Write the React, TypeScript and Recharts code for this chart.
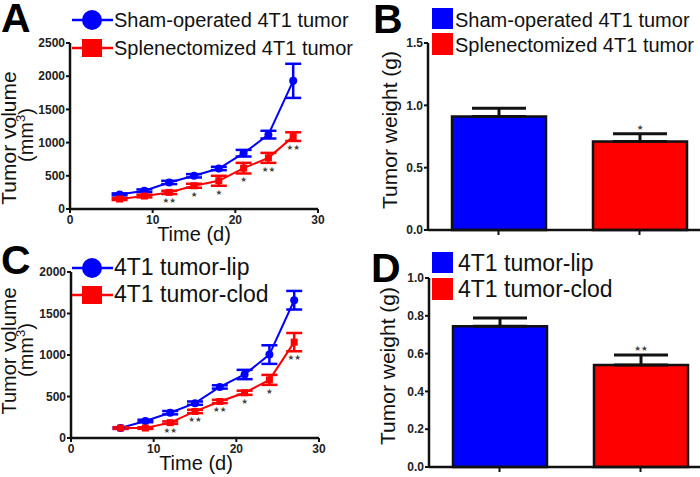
import React from 'react'
import {
  LineChart,
  Line,
  BarChart,
  Bar,
  Cell,
  XAxis,
  YAxis,
  ErrorBar,
  LabelList,
  Legend,
} from 'recharts'

// ---------------------------------------------------------------------------
// Data
// ---------------------------------------------------------------------------

const days = [6, 9, 12, 15, 18, 21, 24, 27]

// Panel A
const shamVolume = [220, 275, 400, 500, 610, 840, 1120, 1930]
const shamVolumeErr = [15, 20, 25, 25, 25, 50, 58, 257]
const splenVolume = [150, 195, 250, 350, 425, 615, 770, 1090]
const splenVolumeErr = [15, 20, 25, 30, 75, 80, 75, 65]
const splenSig = ['', '', '**', '*', '*', '*', '**', '**']

// Panel C
const lipVolume = [120, 205, 305, 420, 615, 765, 1005, 1660]
const lipVolumeErr = [10, 15, 20, 20, 20, 56, 112, 112]
const clodVolume = [120, 120, 185, 320, 440, 545, 700, 1155]
const clodVolumeErr = [10, 10, 15, 20, 20, 25, 60, 110]
const clodSig = ['', '', '**', '**', '**', '*', '*', '**']

// Panel B
const groupsB = ['Sham-operated 4T1 tumor', 'Splenectomized 4T1 tumor']
const weightB = [0.91, 0.71]
const weightBErr = [0.066, 0.062]
const sigB = ['', '*']

// Panel D
const groupsD = ['4T1 tumor-lip', '4T1 tumor-clod']
const weightD = [0.745, 0.54]
const weightDErr = [0.044, 0.053]
const sigD = ['', '**']

const volumeTicksA = [0, 500, 1000, 1500, 2000, 2500]
const volumeTicksC = [0, 500, 1000, 1500, 2000]
const dayTicks = [0, 10, 20, 30]
const weightTicksB = [0, 0.5, 1.0, 1.5]
const weightTicksD = [0, 0.2, 0.4, 0.6, 0.8, 1.0]

// ---------------------------------------------------------------------------

const BLUE = '#0000ff'
const RED = '#ff0000'
const FONT = 'Arial, "Liberation Sans", Helvetica, sans-serif'

const tickStyle = { fontSize: 12, fontWeight: 'bold' as const, fill: '#222', fontFamily: FONT }
const axisLine = { stroke: '#111', strokeWidth: 2.5 }
const tickLine = { stroke: '#111', strokeWidth: 2 }

// significance marks are drawn as small stars
const toStars = (s: string) => s.replace(/\*/g, '\u2605')

function BlueDot(props: any) {
  const { cx, cy, index } = props
  if (cx == null || cy == null) return null
  return <circle key={`b${index}`} cx={cx} cy={cy} r={4} fill={BLUE} />
}

function RedSquare(props: any) {
  const { cx, cy, index } = props
  if (cx == null || cy == null) return null
  return <rect key={`r${index}`} x={cx - 3.5} y={cy - 3.5} width={7} height={7} fill={RED} />
}

// stars under a line point (below its error bar)
const starsBelow = (errs: number[], pxPerUnit: number) => (props: any) => {
  const { x, y, value, index } = props
  if (!value) return null
  const errPx = (errs[index] ?? 0) * pxPerUnit
  return (
    <text x={x} y={y + errPx + 9} textAnchor="middle" fontSize={7.5} fill="#444" fontFamily="DejaVu Sans, sans-serif">
      {toStars(value)}
    </text>
  )
}

// stars above a bar (above its error cap)
const starsAbove = (errs: number[], pxPerUnit: number) => (props: any) => {
  const { x, y, width, value, index } = props
  if (!value) return null
  const errPx = (errs[index] ?? 0) * pxPerUnit
  return (
    <text x={x + width / 2} y={y - errPx - 4} textAnchor="middle" fontSize={7.5} fill="#444" fontFamily="DejaVu Sans, sans-serif">
      {toStars(value)}
    </text>
  )
}

// ---------------------------------------------------------------------------
// Legends
// ---------------------------------------------------------------------------

function LineLegend({ labels, top, fontSize, gap }: { labels: string[]; top: number; fontSize: number; gap: number }) {
  const y1 = top
  const y2 = top + gap
  return (
    <svg width={370} height={top + gap + 20} style={{ overflow: 'visible', display: 'block' }}>
      <line x1={72} x2={113} y1={y1} y2={y1} stroke={BLUE} strokeWidth={2.5} />
      <circle cx={92} cy={y1} r={10} fill={BLUE} />
      <text x={114} y={y1 + 7} fontSize={fontSize} fontFamily={FONT} fill="#111">{labels[0]}</text>
      <line x1={72} x2={113} y1={y2} y2={y2} stroke={RED} strokeWidth={2.5} />
      <rect x={82} y={y2 - 9} width={20} height={18} fill={RED} />
      <text x={114} y={y2 + 7} fontSize={fontSize} fontFamily={FONT} fill="#111">{labels[1]}</text>
    </svg>
  )
}

function BarLegend({ labels, top, fontSize, gap, textX }: { labels: string[]; top: number; fontSize: number; gap: number; textX: number }) {
  return (
    <svg width={370} height={top + gap + 30} style={{ overflow: 'visible', display: 'block' }}>
      <rect x={82} y={top} width={21} height={21} fill={BLUE} />
      <text x={textX} y={top + 19} fontSize={fontSize} fontFamily={FONT} fill="#111">{labels[0]}</text>
      <rect x={82} y={top + gap} width={21} height={22} fill={RED} />
      <text x={textX} y={top + gap + 19} fontSize={fontSize} fontFamily={FONT} fill="#111">{labels[1]}</text>
    </svg>
  )
}

const legendProps = {
  layout: 'vertical' as const,
  align: 'center' as const,
  verticalAlign: 'middle' as const,
  wrapperStyle: { left: 0, top: 0, width: 370, height: 80 },
}

// ---------------------------------------------------------------------------

function VolumeChart({
  data, ticks, max, redErr, pxPerUnit, names, legendTop, legendSize, legendGap, height, margin, yWidth, xHeight,
}: any) {
  return (
    <LineChart width={350} height={height} data={data} margin={margin}>
      <XAxis
        dataKey="day"
        type="number"
        domain={[0, 30]}
        ticks={dayTicks}
        tick={tickStyle}
        axisLine={axisLine}
        tickLine={tickLine}
        tickSize={4}
        tickMargin={2}
        height={xHeight}
      />
      <YAxis
        type="number"
        domain={[0, max]}
        ticks={ticks}
        tick={tickStyle}
        axisLine={axisLine}
        tickLine={tickLine}
        tickSize={4}
        tickMargin={1}
        width={yWidth}
        interval={0}
      />
      <Legend {...legendProps} content={() => <LineLegend labels={names} top={legendTop} fontSize={legendSize} gap={legendGap} />} />
      <Line dataKey="blue" name={names[0]} stroke={BLUE} strokeWidth={2} dot={BlueDot} activeDot={false} isAnimationActive={false}>
        <ErrorBar dataKey="blueErr" direction="y" width={8} stroke={BLUE} strokeWidth={2.5} />
      </Line>
      <Line dataKey="red" name={names[1]} stroke={RED} strokeWidth={2} dot={RedSquare} activeDot={false} isAnimationActive={false}>
        <ErrorBar dataKey="redErr" direction="y" width={8} stroke={RED} strokeWidth={2.5} />
        <LabelList dataKey="sig" content={starsBelow(redErr, pxPerUnit)} />
      </Line>
    </LineChart>
  )
}

function WeightChart({
  data, ticks, max, errs, pxPerUnit, names, legendTop, legendSize, legendGap, legendTextX, height, margin, yWidth,
}: any) {
  return (
    <BarChart width={370} height={height} data={data} margin={margin} barSize={94}>
      <XAxis
        dataKey="name"
        tickFormatter={() => ''}
        axisLine={axisLine}
        tickLine={tickLine}
        tickSize={5}
        height={10}
      />
      <YAxis
        type="number"
        domain={[0, max]}
        ticks={ticks}
        tick={tickStyle}
        tickFormatter={(v: number) => v.toFixed(1)}
        axisLine={axisLine}
        tickLine={tickLine}
        tickSize={4}
        tickMargin={1}
        width={yWidth}
        interval={0}
      />
      <Legend
        {...legendProps}
        content={() => <BarLegend labels={names} top={legendTop} fontSize={legendSize} gap={legendGap} textX={legendTextX} />}
      />
      <Bar dataKey="value" stroke="#111" strokeWidth={2.5} isAnimationActive={false}>
        {data.map((_: any, i: number) => (
          <Cell key={i} fill={i === 0 ? BLUE : RED} />
        ))}
        <ErrorBar dataKey="err" direction="y" width={27} stroke="#111" strokeWidth={3} />
        <LabelList dataKey="sig" content={starsAbove(errs, pxPerUnit)} />
      </Bar>
    </BarChart>
  )
}

export default function App() {
  const dataA = days.map((d, i) => ({
    day: d,
    blue: shamVolume[i],
    blueErr: shamVolumeErr[i],
    red: splenVolume[i],
    redErr: splenVolumeErr[i],
    sig: splenSig[i],
  }))
  const dataC = days.map((d, i) => ({
    day: d,
    blue: lipVolume[i],
    blueErr: lipVolumeErr[i],
    red: clodVolume[i],
    redErr: clodVolumeErr[i],
    sig: clodSig[i],
  }))
  const dataB = groupsB.map((g, i) => ({ name: g, value: weightB[i], err: [0, weightBErr[i]], sig: sigB[i] }))
  const dataD = groupsD.map((g, i) => ({ name: g, value: weightD[i], err: [0, weightDErr[i]], sig: sigD[i] }))

  const title = { fontFamily: FONT, fill: '#111' }
  const letter = { fontFamily: FONT, fill: '#000', fontWeight: 'bold' as const, fontSize: 41 }

  return (
    <div style={{ position: 'absolute', left: 0, top: 0, width: 700, height: 477, overflow: 'hidden', background: '#fff', fontFamily: FONT }}>
      <div style={{ position: 'absolute', left: 0, top: 0 }}>
        <VolumeChart
          data={dataA}
          ticks={volumeTicksA}
          max={2500}
          redErr={splenVolumeErr}
          pxPerUnit={166 / 2500}
          names={['Sham-operated 4T1 tumor', 'Splenectomized 4T1 tumor']}
          legendTop={20}
          legendSize={20}
          legendGap={28}
          height={240}
          margin={{ top: 43, right: 32, bottom: 0, left: 0 }}
          yWidth={70}
          xHeight={31}
        />
      </div>
      <div style={{ position: 'absolute', left: 0, top: 240 }}>
        <VolumeChart
          data={dataC}
          ticks={volumeTicksC}
          max={2000}
          redErr={clodVolumeErr}
          pxPerUnit={166 / 2000}
          names={['4T1 tumor-lip', '4T1 tumor-clod']}
          legendTop={28}
          legendSize={23}
          legendGap={27}
          height={237}
          margin={{ top: 32, right: 31, bottom: 0, left: 0 }}
          yWidth={71}
          xHeight={39}
        />
      </div>
      <div style={{ position: 'absolute', left: 350, top: 0 }}>
        <WeightChart
          data={dataB}
          ticks={weightTicksB}
          max={1.5}
          errs={weightBErr}
          pxPerUnit={187 / 1.5}
          names={groupsB}
          legendTop={8}
          legendSize={20}
          legendGap={25}
          legendTextX={105}
          height={240}
          margin={{ top: 43, right: 10, bottom: 0, left: 0 }}
          yWidth={78}
        />
      </div>
      <div style={{ position: 'absolute', left: 350, top: 240 }}>
        <WeightChart
          data={dataD}
          ticks={weightTicksD}
          max={1.0}
          errs={weightDErr}
          pxPerUnit={189}
          names={groupsD}
          legendTop={12}
          legendSize={23}
          legendGap={26}
          legendTextX={108}
          height={237}
          margin={{ top: 38, right: 9, bottom: 0, left: 0 }}
          yWidth={79}
        />
      </div>

      {/* panel letters and axis titles */}
      <svg width={700} height={477} style={{ position: 'absolute', left: 0, top: 0, pointerEvents: 'none' }}>
        <text x={1} y={32} {...letter}>A</text>
        <text x={373} y={33} {...letter}>B</text>
        <text x={1} y={274} {...letter}>C</text>
        <text x={371} y={282} {...letter}>D</text>

        <text x={16} y={138} transform="rotate(-90 16 138)" textAnchor="middle" fontSize={21} {...title}>Tumor volume</text>
        <text x={33} y={135} transform="rotate(-90 33 135)" textAnchor="middle" fontSize={20} {...title}>
          (mm<tspan dy={-8} fontSize={13}>3</tspan><tspan dy={8}>)</tspan>
        </text>
        <text x={194} y={241} textAnchor="middle" fontSize={20} {...title}>Time (d)</text>

        <text x={16} y={351} transform="rotate(-90 16 351)" textAnchor="middle" fontSize={20} {...title}>Tumor volume</text>
        <text x={33} y={350} transform="rotate(-90 33 350)" textAnchor="middle" fontSize={20} {...title}>
          (mm<tspan dy={-8} fontSize={13}>3</tspan><tspan dy={8}>)</tspan>
        </text>
        <text x={196} y={470} textAnchor="middle" fontSize={20} {...title}>Time (d)</text>

        <text x={397} y={130} transform="rotate(-90 397 130)" textAnchor="middle" fontSize={21} {...title}>Tumor weight (g)</text>
        <text x={395} y={366} transform="rotate(-90 395 366)" textAnchor="middle" fontSize={21} {...title}>Tumor weight (g)</text>
      </svg>
    </div>
  )
}
